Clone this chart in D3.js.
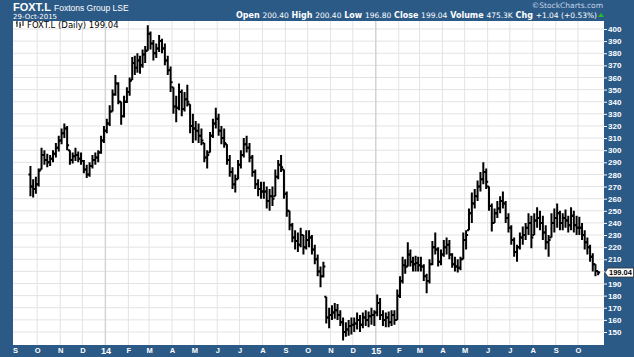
<!DOCTYPE html>
<html>
<head>
<meta charset="utf-8">
<title>FOXT.L</title>
<style>
body{margin:0;background:#2c5a87;}
svg{display:block;font-family:"DejaVu Sans",Verdana,sans-serif;}
</style>
<script src="https://d3js.org/d3.v7.min.js"></script>
</head>
<body>
<div class="chart"></div>
<script>

// one row per month, bars spread evenly inside the month
var months = ["2013-09","2013-10","2013-11","2013-12","2014-01","2014-02","2014-03","2014-04","2014-05","2014-06","2014-07","2014-08","2014-09",
	"2014-10","2014-11","2014-12","2015-01","2015-02","2015-03","2015-04","2015-05","2015-06","2015-07","2015-08","2015-09","2015-10"];
var monthLabels = ["S","O","N","D","14","F","M","A","M","J","J","A","S","O","N","D","15","F","M","A","M","J","J","A","S","O"];
var firstDay = "2013-09-20", lastDay = "2015-10-29";
var firstOpen = 280;

var highs = [
	[287,276,278],
	[285,302,300,297,296,300,306,312],
	[318,322,320,300,298,302,299,298],
	[292,288,290,296,298,300,312,320],
	[326,337,350,362,356,340,345,352],
	[360,377,378,380,378,383,386,403],
	[398,391,388,395,392,388,378,369],
	[352,345,355,350,348,354,338,330],
	[324,322,318,306,300,315,326,335],
	[330,320,318,305,296,286,280,292],
	[300,310,312,306,296,284,276,274],
	[274,270,268,270,284,292,296,284],
	[266,250,240,234,232,236,230,234],
	[234,230,222,214,204,208,179,170],
	[172,174,173,168,162,158,160,162],
	[162,166,164,166,168,167,170,168],
	[181,178,168,166,167,168,168,185],
	[196,212,210,224,218,212,213,212],
	[212,206,198,210,225,232,220,218],
	[226,228,226,215,212,210,212,232],
	[234,252,265,268,275,282,290,285],
	[270,256,252,258,262,266,258,248],
	[238,228,222,232,237,240,248,246],
	[248,253,250,246,238,230,248,252],
	[256,250,248,251,246,253,250,246],
	[245,240,234,228,222,215,206,200.4]
];
var lows = [
	[262,261,264],
	[270,284,288,286,287,290,294,299],
	[305,310,300,288,289,291,290,288],
	[281,277,278,285,288,290,297,306],
	[314,320,332,345,338,321,327,339],
	[345,358,362,364,363,368,372,382],
	[383,374,376,381,380,370,362,348],
	[330,323,333,328,332,336,314,306],
	[308,306,304,290,285,298,310,318],
	[312,305,302,288,278,268,265,276],
	[285,294,298,290,278,268,262,260],
	[260,252,250,254,262,276,282,260],
	[245,234,224,218,216,220,214,218],
	[220,214,206,196,187,195,157,153],
	[160,161,160,155,143,146,147,148],
	[150,152,150,153,155,154,156,155],
	[163,160,155,154,154,155,156,160],
	[178,190,198,204,204,200,200,200],
	[200,192,182,190,205,214,204,205],
	[212,214,210,203,200,199,201,210],
	[218,234,240,252,258,266,272,268],
	[250,233,240,244,248,252,240,232],
	[222,212,208,218,222,226,230,219],
	[230,236,234,226,218,212,228,232],
	[236,234,234,236,232,234,232,230],
	[230,226,218,214,208,200,196,196.8]
];
var closes = [
	[270,268,272],
	[283,296,292,290,293,297,302,308],
	[314,318,304,292,295,296,293,291],
	[284,280,287,292,294,298,308,316],
	[322,332,346,355,340,328,340,348],
	[357,372,368,374,370,379,382,396],
	[388,380,384,390,384,374,366,356],
	[336,335,348,334,342,340,320,318],
	[316,312,308,294,296,312,322,326],
	[316,310,306,292,282,272,276,288],
	[296,305,302,294,282,272,268,266],
	[266,258,262,260,278,288,286,264],
	[250,238,228,225,222,230,220,226],
	[228,218,210,200,196,204,162,164],
	[166,168,164,158,150,152,155,156],
	[157,160,156,162,160,163,164,166],
	[174,164,160,162,158,164,160,180],
	[192,205,204,214,208,206,207,205],
	[204,196,192,206,220,218,208,214],
	[220,222,214,206,204,203,210,226],
	[230,248,256,262,270,276,282,274],
	[254,240,248,252,258,256,244,236],
	[226,216,220,228,230,236,240,228],
	[242,244,240,232,224,226,240,244],
	[248,240,244,242,238,246,238,236],
	[236,230,224,220,212,206,200.4,199.04]
];
var yTicks = [150,160,170,180,190,200,210,220,230,240,250,260,270,280,290,300,310,320,330,340,350,360,370,380,390,400];
var lastClose = 199.04;

var svgDims = {width:634, height:357};
var plot = {left:13, right:604, top:21, bottom:345};

var parseDay = d3.utcParse("%Y-%m-%d");
var parseMonth = d3.utcParse("%Y-%m");

// build bars
var bars = [];
var start = parseDay(firstDay), end = d3.utcDay.offset(parseDay(lastDay), 1);
months.forEach(function(m, k){
	var from = parseMonth(m), to = d3.utcMonth.offset(from, 1);
	if (from < start) from = start;
	if (to > end) to = end;
	var n = highs[k].length;
	for (var i = 0; i < n; i++){
		bars.push({date:new Date(+from + (i + 0.5) * (to - from) / n), high:highs[k][i], low:lows[k][i], close:closes[k][i]});
	}
});
bars.forEach(function(d, i){
	var o = i ? bars[i-1].close : firstOpen;
	d.open = Math.max(d.low, Math.min(d.high, o));
});

var x = d3.scaleUtc().domain([parseMonth("2013-09"), parseMonth("2015-10")]).range([15, 578]);
var y = d3.scaleLinear().domain([150, 400]).range([332, 29]);

var svg = d3.select(".chart").append("svg")
	.attr("width", svgDims.width)
	.attr("height", svgDims.height);

svg.append("rect").attr("width", svgDims.width).attr("height", svgDims.height).attr("fill", "#2c5a87");
svg.append("rect")
	.attr("x", plot.left).attr("y", plot.top)
	.attr("width", plot.right - plot.left).attr("height", plot.bottom - plot.top)
	.attr("fill", "#ffffff");

// grid
svg.append("g").selectAll("line").data(yTicks).join("line")
	.attr("x1", plot.left).attr("x2", plot.right)
	.attr("y1", function(d){ return y(d); }).attr("y2", function(d){ return y(d); })
	.attr("stroke", "#e3e3e3").attr("stroke-width", 1);

var monthDates = months.map(function(m){ return parseMonth(m); });
svg.append("g").selectAll("line").data(monthDates.slice(1)).join("line")
	.attr("x1", function(d){ return x(d); }).attr("x2", function(d){ return x(d); })
	.attr("y1", plot.top).attr("y2", plot.bottom)
	.attr("stroke", function(d){ return d.getUTCMonth() == 0 ? "#d4d4d4" : "#e3e3e3"; })
	.attr("stroke-width", function(d){ return d.getUTCMonth() == 0 ? 1.5 : 1; });

// ohlc bars
svg.append("g").selectAll("path").data(bars).join("path")
	.attr("d", function(d){
		var cx = x(d.date);
		return "M" + cx + "," + y(d.high) + "V" + y(d.low) +
			"M" + (cx - 2) + "," + y(d.open) + "H" + cx +
			"M" + cx + "," + y(d.close) + "H" + (cx + 2);
	})
	.attr("fill", "none")
	.attr("stroke", "#000")
	.attr("stroke-width", 2);

// right axis (the 200 label sits under the last price box)
var yAxis = d3.axisRight(y).tickValues(yTicks).tickSize(3).tickPadding(1)
	.tickFormat(function(d){ return Math.abs(d - lastClose) < 5 ? "" : d; });
var ya = svg.append("g").attr("transform", "translate(" + plot.right + ",0)").call(yAxis);
ya.select(".domain").remove();
ya.selectAll("line").attr("stroke", "#ffffff");
ya.selectAll("text").attr("fill", "#ffffff").attr("font-size", 8).attr("font-weight", "bold");

// bottom axis
var xAxis = d3.axisBottom(x).tickValues(monthDates).tickSize(0).tickPadding(3)
	.tickFormat(function(d, i){ return monthLabels[i]; });
var xa = svg.append("g").attr("transform", "translate(0," + plot.bottom + ")").call(xAxis);
xa.select(".domain").remove();
xa.selectAll("text").attr("fill", "#ffffff").attr("font-size", function(d, i){ return monthLabels[i].length > 1 ? 9 : 7.5; })
	.attr("font-weight", "bold");

// last price marker
var ly = y(lastClose);
svg.append("path")
	.attr("d", "M" + (plot.right + 1) + "," + ly + "L" + (plot.right + 4) + "," + (ly - 4.5) + "H633.5V" + (ly + 4.5) + "H" + (plot.right + 4) + "Z")
	.attr("fill", "#ffffff").attr("stroke", "#333").attr("stroke-width", 0.8);
svg.append("text").attr("x", plot.right + 5).attr("y", ly + 2.8)
	.attr("font-family", "Liberation Sans, Arial, sans-serif")
	.attr("font-size", 7.5).attr("font-weight", "bold").attr("fill", "#000").text(lastClose.toFixed(2));

// header
svg.append("text").attr("x", 13).attr("y", 11).attr("fill", "#fff").attr("font-family", "Liberation Sans, Arial, sans-serif")
	.attr("font-size", 11).attr("font-weight", "bold").text("FOXT.L");
svg.append("text").attr("x", 54).attr("y", 11).attr("fill", "#fff").attr("font-family", "Liberation Sans, Arial, sans-serif")
	.attr("font-size", 8.5).text("Foxtons Group LSE");
svg.append("text").attr("x", 13).attr("y", 19).attr("fill", "#fff").attr("font-size", 7).text("29-Oct-2015");
svg.append("text").attr("x", 603).attr("y", 8).attr("text-anchor", "end").attr("fill", "#c8d6e6").attr("font-size", 7.5).text("\u00a9StockCharts.com");

var quote = [["Open", "200.40"], ["High", "200.40"], ["Low", "196.80"], ["Close", "199.04"], ["Volume", "475.3K"], ["Chg", "+1.04 (+0.53%)"]];
var qt = svg.append("text").attr("x", 597).attr("y", 18).attr("text-anchor", "end").attr("fill", "#fff").attr("font-size", 7.5);
quote.forEach(function(q, i){
	qt.append("tspan").attr("font-weight", "bold").attr("font-size", 8).text((i ? " " : "") + q[0] + " ");
	qt.append("tspan").text(q[1]);
});
svg.append("path").attr("d", "M598,17L601,13L604,17Z").attr("fill", "#22c022");

// legend
var lg = svg.append("g").attr("transform", "translate(16,28)");
lg.append("path").attr("d", "M1,-7V-1M0,-5H1M4,-6V0M4,-3H5M7,-7V-2").attr("stroke", "#000").attr("fill", "none").attr("stroke-width", 1);
lg.append("text").attr("x", 11).attr("y", 0).attr("font-size", 8.5).attr("fill", "#000").text("FOXT.L (Daily) 199.04");

</script>
</body>
</html>
